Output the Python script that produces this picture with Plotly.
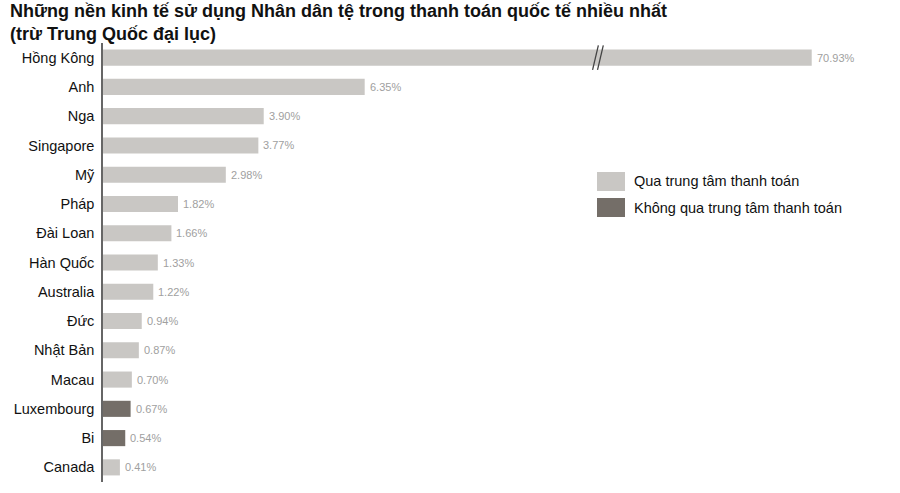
import plotly.graph_objects as go

# ---------------- data ----------------
countries = ["Hồng Kông", "Anh", "Nga", "Singapore", "Mỹ", "Pháp", "Đài Loan",
             "Hàn Quốc", "Australia", "Đức", "Nhật Bản", "Macau", "Luxembourg",
             "Bi", "Canada"]
shares = [70.93, 6.35, 3.90, 3.77, 2.98, 1.82, 1.66, 1.33, 1.22, 0.94, 0.87,
          0.70, 0.67, 0.54, 0.41]
via_clearing = [True, True, True, True, True, True, True, True, True, True,
                True, True, False, False, True]
series_names = ["Qua trung tâm thanh toán", "Không qua trung tâm thanh toán"]
title_lines = ["Những nền kinh tế sử dụng Nhân dân tệ trong thanh toán quốc tế nhiều nhất",
               "(trừ Trung Quốc đại lục)"]

# ---------------- broken-axis scale ----------------
BREAK_AT = 12.0
COMPRESS = 0.0882


def scaled(v):
    return v if v <= BREAK_AT else BREAK_AT + (v - BREAK_AT) * COMPRESS


LIGHT = "#c9c7c4"
DARK = "#746e68"
FONT = "Liberation Sans, Arial, sans-serif"

L, T, PW, PH = 103, 43, 783, 439  # plot area geometry in px

fig = go.Figure()
for flag, name, color in [(True, series_names[0], LIGHT), (False, series_names[1], DARK)]:
    ys = [c for c, f in zip(countries, via_clearing) if f == flag]
    xs = [scaled(v) for v, f in zip(shares, via_clearing) if f == flag]
    fig.add_trace(go.Bar(x=xs, y=ys, orientation="h", name=name,
                         marker=dict(color=color, line=dict(width=0)),
                         width=0.55, showlegend=False, hoverinfo="skip"))

annotations = []
for c, v in zip(countries, shares):
    annotations.append(dict(x=scaled(v), y=c, xref="x", yref="y", text=f"{v:.2f}%",
                            showarrow=False, xanchor="left", xshift=3,
                            font=dict(family=FONT, size=11, color="#a0a0a0")))

# title
annotations.append(dict(x=(8 - L) / PW, y=1.0, xref="paper", yref="paper", xanchor="left",
                        yanchor="top", yshift=T + 1, align="left", showarrow=False,
                        text="<b>" + title_lines[0] + "<br>" + title_lines[1] + "</b>",
                        font=dict(family=FONT, size=18, color="#111111")))

# legend (drawn)
shapes = []
legend_items = [(series_names[0], LIGHT, 172, 191), (series_names[1], DARK, 198, 217)]
for name, color, y0, y1 in legend_items:
    shapes.append(dict(type="rect", xref="paper", yref="paper",
                       x0=(597 - L) / PW, x1=(625 - L) / PW,
                       y0=(T + PH - y1) / PH, y1=(T + PH - y0) / PH,
                       fillcolor=color, line=dict(width=0)))
    annotations.append(dict(x=(632 - L) / PW, y=(T + PH - (y0 + y1) / 2) / PH,
                            xref="paper", yref="paper", xanchor="left", yanchor="middle",
                            showarrow=False, text=name,
                            font=dict(family=FONT, size=14.5, color="#111111")))

# break marks on the Hong Kong bar
for dx in [0.0, 0.12]:
    shapes.append(dict(type="line", xref="x", yref="y",
                       x0=BREAK_AT - 0.12 + dx, x1=BREAK_AT + 0.02 + dx,
                       y0=0.42, y1=-0.42, line=dict(color="#444444", width=1.3)))

fig.update_layout(
    width=900, height=493,
    margin=dict(l=L, r=900 - L - PW, t=T, b=493 - T - PH),
    paper_bgcolor="white", plot_bgcolor="white",
    barmode="overlay",
    xaxis=dict(range=[0, 19], visible=False),
    yaxis=dict(categoryorder="array", categoryarray=countries,
               range=[14.5, -0.5], showline=True, linecolor="#666666", linewidth=1.5,
               ticks="", showgrid=False, ticklabelstandoff=4,
               tickfont=dict(family=FONT, size=14.5, color="#111111")),
    annotations=annotations, shapes=shapes,
)

fig.write_html("out.html", config={"displayModeBar": False},
               post_script="document.body.style.margin='0';")
